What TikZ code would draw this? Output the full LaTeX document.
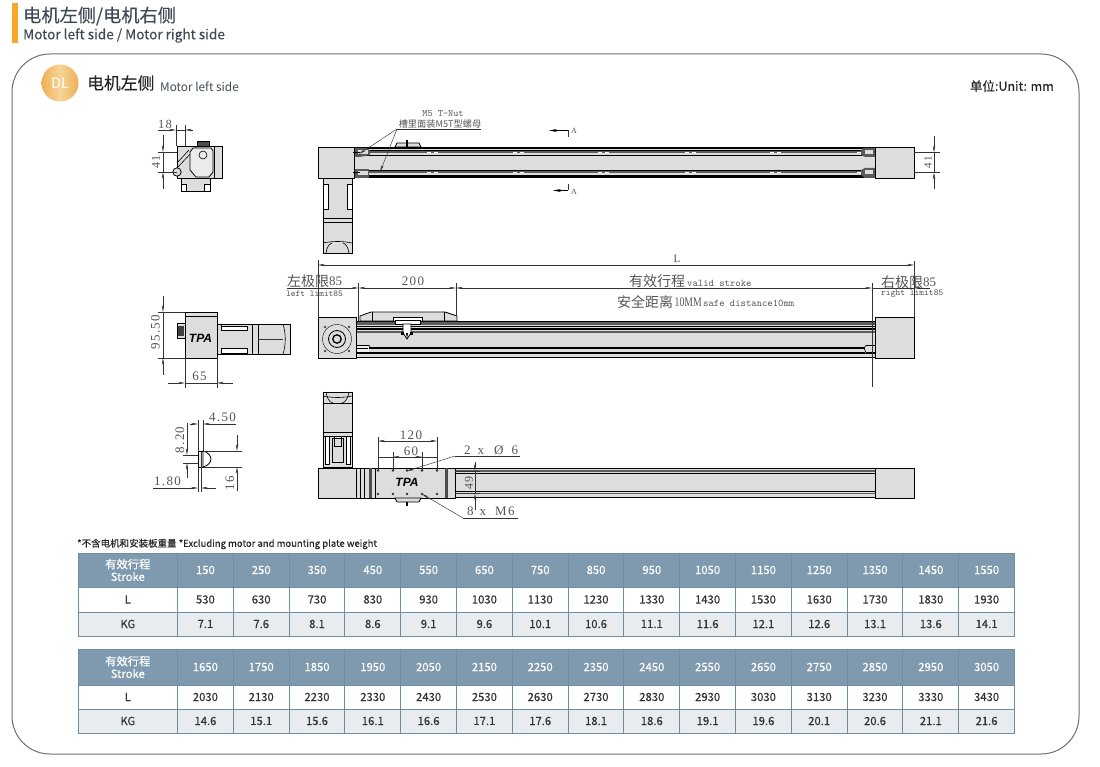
\documentclass[tikz,border=0pt]{standalone}
\usepackage{fontspec}
\setmainfont{Liberation Serif}
\newfontfamily\cjkfont{Noto Sans CJK SC}
\newfontfamily\cjkmed{Noto Sans CJK SC}[FakeBold=0.25]
\newfontfamily\cadfont{Liberation Serif}[LetterSpace=10]
\newfontfamily\cadnarrow{Liberation Serif}[FakeStretch=0.75]
\newfontfamily\logofont{Liberation Sans}
\usetikzlibrary{arrows.meta}
\definecolor{barorange}{HTML}{F9A72B}
\definecolor{dlorange}{HTML}{EFAE55}
\definecolor{dllight}{HTML}{F6D597}
\definecolor{framegray}{HTML}{6F6F6F}
\definecolor{inkblue}{HTML}{3F4A57}
\definecolor{cadgray}{HTML}{DDDDDD}
\definecolor{stripegray}{HTML}{5E5E5E}
\definecolor{headblue}{HTML}{7F9AAF}
\definecolor{edgeblue}{HTML}{6D8EA6}
\definecolor{rowgray}{HTML}{E9ECEF}
\definecolor{celltext}{HTML}{333333}
\definecolor{dimtext}{HTML}{555555}
\tikzset{
    cadpart/.style={draw=black,fill=cadgray,line width=.8pt},
    cadline/.style={draw=black,line width=.6pt},
    thinline/.style={draw=black!80,line width=.45pt},
    dimtip/.style={draw=black!80,line width=.45pt,-{Stealth[length=7pt,width=2.4pt]}},
    dimboth/.style={draw=black!80,line width=.45pt,{Stealth[length=7pt,width=2.4pt]}-{Stealth[length=7pt,width=2.4pt]}},
    dimlabel/.style={inner sep=0pt,text=dimtext,font=\cadfont\fontsize{13}{13}\selectfont},
    smalllabel/.style={inner sep=0pt,text=dimtext,font=\fontsize{9}{9}\selectfont\ttfamily},
    cjklabel/.style={inner sep=0pt,text=dimtext,font=\cjkfont\fontsize{14}{14}\selectfont},
    headcell/.style={draw=edgeblue,fill=headblue,text=white,inner sep=0pt,line width=.9pt,anchor=center,font=\cjkmed\fontsize{11.3}{12.5}\selectfont,align=center},
    bodycell/.style={draw=edgeblue,inner sep=0pt,line width=.9pt,anchor=center,text=celltext,font=\cjkmed\fontsize{11.3}{12}\selectfont},
}
\begin{document}
\begin{tikzpicture}[x=1pt,y=-1pt]
    \useasboundingbox (0,0) rectangle (1100,767);

    % header
    \fill[barorange] (12,3) rectangle (17.5,43);
    \node[anchor=west,inner sep=0pt,text=inkblue,font=\cjkmed\fontsize{18.2}{18.2}\selectfont] (title) at (23,16) {电机左侧/电机右侧};
    \node[anchor=west,inner sep=0pt,text=inkblue,font=\cjkmed\fontsize{13.6}{13.6}\selectfont] (subtitle) at (23,35.5) {Motor left side / Motor right side};
    \draw[framegray,line width=1pt,rounded corners=38pt] (12,54) rectangle (1079,754);
    \shade[left color=dlorange,right color=dlorange,middle color=dllight] (60,83) circle (18.5);
    \node[inner sep=0pt,text=white,font=\cjkfont\fontsize{14.5}{14.5}\selectfont] (dl) at (60,83.5) {DL};
    \node[anchor=west,inner sep=0pt,text=black!85,font=\cjkmed\fontsize{16.8}{16.8}\selectfont] (sidecn) at (87,83) {电机左侧};
    \node[anchor=west,inner sep=0pt,text=inkblue,font=\cjkfont\fontsize{11.8}{11.8}\selectfont] (sideen) at (160,87) {Motor left side};
    \node[anchor=east,inner sep=0pt,text=black!85,font=\cjkmed\fontsize{12.5}{12.5}\selectfont] (unit) at (1054,86) {单位:Unit: mm};

    % top view
    \fill[cadgray] (353,147) rectangle (875,178);
    \foreach \y/\w/\c in {147.6/2/black,150/.7/black,152.5/2/stripegray,155/.9/black,170/.9/black,172.5/2/stripegray,175/.7/black,177.5/2/black}
        \draw[\c,line width=\w pt] (353,\y) -- (875,\y);
    \foreach \x in {427,513,598,685,770,857} {
        \draw[white,line width=1.1pt,dash pattern=on 4pt off 3pt] (\x,152.5) -- (\x+12,152.5);
        \draw[white,line width=1.1pt,dash pattern=on 4pt off 3pt] (\x,172.5) -- (\x+12,172.5);
    }
    \fill[black!65] (354,148) -- (367,148) -- (370,151) -- (370,155) -- (360,157) -- (354,157) -- cycle;
    \fill[black!65] (354,169) -- (369,169) -- (369,178) -- (354,178) -- cycle;
    \fill[cadgray] (358,150.5) rectangle (368,154.5);
    \fill[cadgray] (358,171.5) rectangle (368,175.5);
    \fill[black!65] (875,148) -- (863,148) -- (861,151) -- (861,155) -- (865,157) -- (875,157) -- cycle;
    \fill[black!65] (875,168) -- (865,168) -- (861,170) -- (861,175) -- (865,178) -- (875,178) -- cycle;
    \fill[cadgray] (865,150.5) rectangle (873,154.5);
    \fill[cadgray] (865,170.5) rectangle (873,174.5);
    \draw[cadpart] (318,147) rectangle (354,178);
    \draw[cadpart] (875,147) rectangle (914,178);
    \draw[cadline] (353,152.5) -- (360,152.5);
    \draw[cadline] (353,172.5) -- (360,172.5);
    \draw[cadpart] (395,147) -- (397,143) -- (419,143) -- (421,147) -- cycle;
    \draw[black,line width=1.6pt] (407,140) -- (407,147);
    \draw[cadpart] (323,178) rectangle (352,218);
    \draw[cadpart] (323,218) -- (352,218) -- (352,253) -- (323,253) -- cycle;
    \draw[cadline] (323,222) -- (352,222);
    \draw[cadline] (323,243) .. controls (332,241) and (343,241) .. (352,243);
    \draw[cadline] (326,253) .. controls (327,247) and (329,244) .. (332,243);
    \draw[cadline] (349,253) .. controls (348,247) and (346,244) .. (343,243);
    \draw[cadpart,fill=white] (323,184) rectangle (328,209);
    \draw[cadpart,fill=white] (347,184) rectangle (352,209);

    \coordinate (nutfork) at (397,129);
    \coordinate (nutup) at (359,154);
    \coordinate (nutdown) at (380,172);
    \coordinate (nutend) at (481,129);
    \node[smalllabel,font=\fontsize{9.8}{9.8}\selectfont\ttfamily] (nuten) at (443,114) {M5 T-Nut};
    \node[smalllabel,font=\cjkfont\fontsize{9.2}{9.2}\selectfont] (nutcn) at (440,124.5) {槽里面装M5T型螺母};
    \draw[thinline] (nutfork) -- (nutend);
    \draw[dimtip] (nutfork) -- (nutup);
    \draw[dimtip] (nutfork) -- (nutdown);

    \coordinate (cutup) at (568,137);
    \coordinate (cutupk) at (568,130.5);
    \coordinate (cutuptip) at (549,130.5);
    \coordinate (cutdown) at (568,184);
    \coordinate (cutdownk) at (568,190.5);
    \coordinate (cutdowntip) at (553,190.5);
    \draw[thinline] (cutup) -- (cutupk);
    \draw[black,line width=.7pt,-{Stealth[length=8pt,width=3pt]}] (cutupk) -- (cutuptip);
    \draw[thinline] (cutdown) -- (cutdownk);
    \draw[black,line width=.7pt,-{Stealth[length=8pt,width=3pt]}] (cutdownk) -- (cutdowntip);
    \node[smalllabel,font=\fontsize{8}{8}\selectfont] (cuta) at (574,130.5) {A};
    \node[smalllabel,font=\fontsize{8}{8}\selectfont] (cutb) at (574,191.5) {A};

    \draw[thinline] (914,152.5) -- (940,152.5);
    \draw[thinline] (914,172.5) -- (940,172.5);
    \coordinate (topd0) at (934,136);
    \coordinate (topd1) at (934,152.5);
    \coordinate (topd2) at (934,172.5);
    \coordinate (topd3) at (934,189);
    \draw[dimtip] (topd0) -- (topd1);
    \draw[dimtip] (topd3) -- (topd2);
    \draw[thinline] (topd1) -- (topd2);
    \node[dimlabel,rotate=90,font=\cadfont\fontsize{11}{11}\selectfont] (top41) at (928,162.5) {41};

    % end view, top row
    \draw[cadpart] (213,146) rectangle (222.5,178);
    \draw[cadpart] (177,146) rectangle (214,178);
    \draw[cadline] (177,168) -- (193,151) -- (196,147);
    \draw[cadline] (177,163) -- (189,150);
    \draw[cadpart,fill=cadgray!60] (190,152) -- (193,148) -- (211,148) -- (213,151) -- (213,172) -- (209,177) -- (196,177) -- (190,170) -- cycle;
    \draw[cadline] (203,155) circle (4);
    \draw[cadpart] (177,172) circle (4.2);
    \draw[cadpart,fill=black!70] (197,141) rectangle (209,146);
    \draw[cadpart] (181,178) rectangle (210,191);
    \draw[cadpart,fill=white] (181,184) rectangle (186,191);
    \draw[cadpart,fill=white] (204,184) rectangle (210,191);

    \coordinate (a18l) at (176,130);
    \coordinate (a18r) at (185,130);
    \coordinate (a18l0) at (158,130);
    \coordinate (a18r0) at (193,130);
    \draw[dimtip] (a18l0) -- (a18l);
    \draw[dimtip] (a18r0) -- (a18r);
    \draw[thinline] (a18l) -- (a18r);
    \draw[thinline] (176,125) -- (176,146);
    \draw[thinline] (185,125) -- (185,146);
    \node[dimlabel,font=\cadfont\fontsize{12.5}{12.5}\selectfont] (a18) at (165,124) {18};
    \coordinate (a41t0) at (163,135);
    \coordinate (a41t) at (163,152);
    \coordinate (a41b) at (163,172);
    \coordinate (a41b0) at (163,189);
    \draw[dimtip] (a41t0) -- (a41t);
    \draw[dimtip] (a41b0) -- (a41b);
    \draw[thinline] (a41t) -- (a41b);
    \draw[thinline] (158,152) -- (177,152);
    \draw[thinline] (158,172) -- (177,172);
    \node[dimlabel,rotate=90,font=\cadfont\fontsize{12}{12}\selectfont] (a41) at (156,162) {41};

    % front view
    \fill[cadgray] (356,321) rectangle (875,358);
    \foreach \y/\w/\c in {321.5/1.2/black,323.5/2.6/stripegray,326.5/.7/black,329/1.8/black,332/2/stripegray,348/1.5/black,353/1.2/black,357.7/1.3/black}
        \draw[\c,line width=\w pt] (356,\y) -- (875,\y);
    \fill[cadgray!40] (356,345) rectangle (369,353);
    \draw[cadline] (356,345.5) -- (369,345.5) -- (371,348);
    \draw[cadline] (356,352.5) -- (369,352.5) -- (371,353);
    \draw[cadline] (368,348) -- (356,348);
    \fill[cadgray] (865,345) rectangle (875,353);
    \draw[cadline] (875,345.5) -- (866,345.5) -- (864,348) -- (866,352.5) -- (875,352.5);
    \draw[cadpart] (360,321) -- (360,316) -- (371,312) -- (445,312) -- (457,316) -- (457,321) -- cycle;
    \draw[cadline] (372,312) -- (372,321);
    \draw[cadline] (444,312) -- (444,321);
    \draw[cadpart,fill=white] (393,321) -- (393,317) -- (422,317) -- (422,321) -- cycle;
    \draw[cadpart,fill=white] (395,320) rectangle (420,324);
    \draw[cadpart,fill=white] (403,324) -- (411,324) -- (411,333) -- (407,339) -- (403,333) -- cycle;
    \fill[black] (401,332) rectangle (404,335);
    \fill[black] (410,332) rectangle (413,335);
    \fill[black] (406,333) -- (408,333) -- (407,339) -- cycle;
    \draw[cadpart] (318,317) rectangle (356,358);
    \draw[cadpart] (875,317) rectangle (914,358);
    \draw[black,line width=.4pt] (337,339) circle (14.5);
    \draw[black,line width=.8pt] (337,339) circle (8.5);
    \draw[black,line width=1.3pt] (337,339) circle (4.2);
    \foreach \x/\y in {325/327,349/327,325/351,349/351}
        \fill[black!70] (\x,\y) circle (1.4);

    \coordinate (lenl) at (318,265);
    \coordinate (lenr) at (914,265);
    \draw[dimboth] (lenl) -- (lenr);
    \draw[thinline] (318,260) -- (318,317);
    \draw[thinline] (914,261) -- (914,317);
    \node[dimlabel,font=\fontsize{11}{11}\selectfont] (len) at (677,258.5) {L};

    \coordinate (sta) at (287,288);
    \coordinate (stb) at (358.5,288);
    \coordinate (stc) at (456,288);
    \coordinate (std) at (872,288);
    \coordinate (ste) at (930,288);
    \coordinate (stf) at (914,288);
    \draw[dimtip] (sta) -- (stb);
    \draw[dimboth] (stb) -- (stc);
    \draw[dimboth] (stc) -- (std);
    \draw[dimtip] (ste) -- (stf);
    \draw[thinline] (std) -- (stf);
    \draw[thinline] (358.5,283) -- (358.5,321);
    \draw[thinline] (456,283) -- (456,316);
    \draw[thinline] (872,283) -- (872,387);
    \node[dimlabel] (s200) at (413,281.5) {200};
    \node[cjklabel,anchor=west] (leftcn) at (287,281) {左极限};
    \node[dimlabel,anchor=west,font=\fontsize{13}{13}\selectfont] (left85) at (329,281) {85};
    \node[smalllabel,anchor=west,font=\fontsize{9}{9}\selectfont\ttfamily] (lefteb) at (286,294) {left limit85};
    \node[cjklabel,anchor=west] (midcn) at (629,281) {有效行程};
    \node[smalllabel,anchor=west,font=\fontsize{10.2}{10.2}\selectfont\ttfamily] (miden) at (687,283) {valid stroke};
    \node[cjklabel,anchor=west] (safecn) at (617,302) {安全距离};
    \node[dimlabel,anchor=west,font=\cadnarrow\fontsize{13}{13}\selectfont] (safemm) at (674.5,302) {10MM};
    \node[smalllabel,anchor=west,font=\fontsize{10.2}{10.2}\selectfont\ttfamily] (safeen) at (703,303) {safe distance10mm};
    \node[cjklabel,anchor=west] (rightcn) at (881,282) {右极限};
    \node[dimlabel,anchor=west,font=\fontsize{13}{13}\selectfont] (right85) at (923,282) {85};
    \node[smalllabel,anchor=west,font=\fontsize{9.1}{9.1}\selectfont\ttfamily] (righten) at (881,294) {right limit85};

    % end view, middle row
    \draw[cadpart] (177,323) rectangle (186,338);
    \fill[black!75] (178,326) rectangle (184,336);
    \draw[cadpart] (216,324) -- (252,324) -- (252,354) -- (216,354) -- cycle;
    \draw[cadline] (220,324) -- (222,326);
    \draw[cadline] (252,324) -- (252,354);
    \draw[cadpart] (252,324.5) rectangle (290,354);
    \draw[cadline] (258,324.5) -- (258,354);
    \draw[thinline] (258,339.5) -- (283,339.5);
    \draw[cadline] (283,324.5) .. controls (286,333) and (286,345) .. (283,354);
    \draw[cadpart,fill=white] (221,326) rectangle (247,330);
    \draw[cadpart,fill=white] (221,348) rectangle (247,353);
    \draw[cadpart] (185,312) rectangle (217,358);
    \draw[cadline] (185,316) -- (217,316);
    \node[inner sep=0pt,font=\logofont\bfseries\itshape\fontsize{12}{12}\selectfont] (logomid) at (200.5,338) {TPA};

    \coordinate (h95t0) at (163,296);
    \coordinate (h95t) at (163,312);
    \coordinate (h95b) at (163,358);
    \coordinate (h95b0) at (163,375);
    \draw[dimtip] (h95t0) -- (h95t);
    \draw[dimtip] (h95b0) -- (h95b);
    \draw[thinline] (h95t) -- (h95b);
    \draw[thinline] (158,312) -- (185,312);
    \draw[thinline] (158,358) -- (185,358);
    \node[dimlabel,rotate=90] (h95) at (155.5,332) {95.50};
    \coordinate (w65l0) at (168,383);
    \coordinate (w65l) at (185,383);
    \coordinate (w65r) at (217,383);
    \coordinate (w65r0) at (233,383);
    \draw[dimtip] (w65l0) -- (w65l);
    \draw[dimtip] (w65r0) -- (w65r);
    \draw[thinline] (w65l) -- (w65r);
    \draw[thinline] (185,358) -- (185,388);
    \draw[thinline] (217,358) -- (217,388);
    \node[dimlabel] (w65) at (199.5,376) {65};

    % t-nut section
    \draw[thinline] (198,420) -- (198,492);
    \draw[thinline] (203,420) -- (203,452);
    \draw[cadpart,fill=cadgray!60] (198,451) rectangle (203,467);
    \draw[cadpart,fill=white] (203,451) .. controls (208,452) and (211,456) .. (211,459) .. controls (211,462) and (208,466) .. (203,467) -- cycle;
    \draw[thinline] (203,451) -- (242,451);
    \draw[thinline] (203,467) -- (242,467);
    \coordinate (n16t0) at (237,435);
    \coordinate (n16t) at (237,451);
    \coordinate (n16b) at (237,467);
    \coordinate (n16b0) at (237,491);
    \draw[dimtip] (n16t0) -- (n16t);
    \draw[dimtip] (n16b0) -- (n16b);
    \node[dimlabel,rotate=90] (n16) at (230,483) {16};
    \coordinate (n45l0) at (190,424);
    \coordinate (n45l) at (198,424);
    \coordinate (n45r) at (203,424);
    \coordinate (n45r0) at (236,424);
    \draw[dimtip] (n45l0) -- (n45l);
    \draw[dimtip] (n45r0) -- (n45r);
    \node[dimlabel] (n45) at (222.5,417.5) {4.50};
    \coordinate (n82t0) at (187,423);
    \coordinate (n82t) at (187,455);
    \coordinate (n82b) at (187,463);
    \coordinate (n82b0) at (187,478);
    \draw[dimtip] (n82t0) -- (n82t);
    \draw[dimtip] (n82b0) -- (n82b);
    \draw[thinline] (183,455) -- (198,455);
    \draw[thinline] (183,463) -- (198,463);
    \node[dimlabel,rotate=90] (n82) at (180,440) {8.20};
    \coordinate (n18l0) at (153,488);
    \coordinate (n18l) at (198,488);
    \coordinate (n18r) at (201,488);
    \coordinate (n18r0) at (216,488);
    \draw[dimtip] (n18l0) -- (n18l);
    \draw[dimtip] (n18r0) -- (n18r);
    \draw[thinline] (201,452) -- (201,492);
    \node[dimlabel] (n18) at (167.5,481) {1.80};

    % bottom view
    \fill[cadgray] (356,468) rectangle (875,498);
    \foreach \y/\w/\c in {468.5/1.5/black,471/1.2/stripegray,473/.6/black,491/.6/black,493.5/1.2/stripegray,497.5/1.5/black}
        \draw[\c,line width=\w pt] (356,\y) -- (875,\y);
    \draw[cadpart] (356,468) -- (360,468) -- (360,498) -- (356,498);
    \draw[cadpart] (360,468) rectangle (455,498);
    \fill[black!70] (369,468) rectangle (372,498);
    \fill[black!70] (445,468) rectangle (448,498);
    \draw[cadline] (364,468) -- (364,498);
    \draw[cadline] (375,468) -- (375,498);
    \draw[cadline] (455,468) -- (455,498);
    \draw[cadpart] (395,498) -- (397,502) -- (419,502) -- (421,498) -- cycle;
    \draw[black,line width=1.6pt] (407,502) -- (407,506);
    \foreach \x in {378,393,407,422,437} {
        \fill[black!80] (\x,470.5) circle (1.3);
        \fill[black!80] (\x,494) circle (1.3);
    }
    \node[inner sep=0pt,font=\logofont\bfseries\itshape\fontsize{12}{12}\selectfont] (logolow) at (407,482.5) {TPA};
    \draw[cadpart] (318,468) rectangle (356,498);
    \draw[cadpart] (875,468) rectangle (914,498);
    \draw[cadpart] (323,392) rectangle (352,467);
    \draw[cadline] (323,396) .. controls (332,398) and (343,398) .. (352,396);
    \draw[cadline] (326,392) .. controls (327,398) and (329,402) .. (333,403);
    \draw[cadline] (349,392) .. controls (348,398) and (346,402) .. (342,403);
    \draw[cadline] (323,403) -- (352,403);
    \draw[cadline] (323,432) -- (352,432);
    \draw[cadline] (323,436) -- (352,436);
    \draw[cadpart,fill=white] (325,436) rectangle (329,464);
    \draw[cadpart,fill=white] (346,436) rectangle (350,464);
    \draw[cadline] (332,438) -- (343,438) -- (343,462) -- (332,462) -- cycle;
    \draw[cadline] (334,437) -- (334,446) -- (341,446) -- (341,437);

    \coordinate (c120l) at (378,441);
    \coordinate (c120r) at (437,441);
    \draw[dimboth] (c120l) -- (c120r);
    \draw[thinline] (378,437) -- (378,470);
    \draw[thinline] (437,437) -- (437,470);
    \node[dimlabel] (c120) at (411,435) {120};
    \coordinate (c60l) at (393,457);
    \coordinate (c60r) at (422,457);
    \draw[dimboth] (c60l) -- (c60r);
    \draw[thinline] (378,457) -- (437,457);
    \draw[thinline] (393,452) -- (393,470);
    \draw[thinline] (422,452) -- (422,470);
    \node[dimlabel] (c60) at (411,451) {60};
    \coordinate (hole2a) at (455,456);
    \coordinate (hole2b) at (520,456);
    \coordinate (hole2c) at (407,471);
    \draw[thinline] (hole2b) -- (hole2a);
    \draw[dimtip] (hole2a) -- (hole2c);
    \node[dimlabel,anchor=west] (hole2) at (464,450) {2\hspace{7pt}x\hspace{10pt}Ø\hspace{8pt}6};
    \coordinate (hole8a) at (463,518);
    \coordinate (hole8b) at (518,518);
    \coordinate (hole8c) at (422,494);
    \draw[thinline] (hole8b) -- (hole8a);
    \draw[dimtip] (hole8a) -- (hole8c);
    \node[dimlabel,anchor=west] (hole8) at (467,511) {8\hspace{6pt}x\hspace{9pt}M6};
    \draw[thinline] (455,471) -- (480,471);
    \draw[thinline] (455,493.5) -- (480,493.5);
    \coordinate (b49t0) at (475,462);
    \coordinate (b49t) at (475,471);
    \coordinate (b49b) at (475,493.5);
    \coordinate (b49b0) at (475,510);
    \draw[dimtip] (b49t0) -- (b49t);
    \draw[dimtip] (b49b0) -- (b49b);
    \draw[thinline] (b49t) -- (b49b);
    \node[dimlabel,rotate=90,font=\cadfont\fontsize{12}{12}\selectfont] (b49) at (469,483) {49};

    % tables
    \node[anchor=west,inner sep=0pt,text=black!85,font=\cjkmed\fontsize{9.5}{9.5}\selectfont] (note) at (77,544) {*不含电机和安装板重量 *Excluding motor and mounting plate weight};

    \node[headcell,minimum width=99.5pt,minimum height=34pt] (headA) at (127.8,570) {有效行程\\Stroke};
    \node[bodycell,minimum width=99.5pt,minimum height=25pt] (rowLA) at (127.8,599.5) {L};
    \node[bodycell,fill=rowgray,minimum width=99.5pt,minimum height=24pt] (rowKA) at (127.8,624) {KG};
    \foreach \st/\len/\kg [count=\c] in {150/530/7.1,250/630/7.6,350/730/8.1,450/830/8.6,550/930/9.1,650/1030/9.6,750/1130/10.1,850/1230/10.6,950/1330/11.1,1050/1430/11.6,1150/1530/12.1,1250/1630/12.6,1350/1730/13.1,1450/1830/13.6,1550/1930/14.1} {
        \node[headcell,minimum width=55.8pt,minimum height=34pt] (sA\c) at (149.6+55.8*\c,570) {\st};
        \node[bodycell,minimum width=55.8pt,minimum height=25pt] (lA\c) at (149.6+55.8*\c,599.5) {\len};
        \node[bodycell,fill=rowgray,minimum width=55.8pt,minimum height=24pt] (kA\c) at (149.6+55.8*\c,624) {\kg};
    }

    \node[headcell,minimum width=99.5pt,minimum height=36pt] (headB) at (127.8,667) {有效行程\\Stroke};
    \node[bodycell,minimum width=99.5pt,minimum height=24pt] (rowLB) at (127.8,697) {L};
    \node[bodycell,fill=rowgray,minimum width=99.5pt,minimum height=24pt] (rowKB) at (127.8,721) {KG};
    \foreach \st/\len/\kg [count=\c] in {1650/2030/14.6,1750/2130/15.1,1850/2230/15.6,1950/2330/16.1,2050/2430/16.6,2150/2530/17.1,2250/2630/17.6,2350/2730/18.1,2450/2830/18.6,2550/2930/19.1,2650/3030/19.6,2750/3130/20.1,2850/3230/20.6,2950/3330/21.1,3050/3430/21.6} {
        \node[headcell,minimum width=55.8pt,minimum height=36pt] (sB\c) at (149.6+55.8*\c,667) {\st};
        \node[bodycell,minimum width=55.8pt,minimum height=24pt] (lB\c) at (149.6+55.8*\c,697) {\len};
        \node[bodycell,fill=rowgray,minimum width=55.8pt,minimum height=24pt] (kB\c) at (149.6+55.8*\c,721) {\kg};
    }
\end{tikzpicture}
\end{document}
